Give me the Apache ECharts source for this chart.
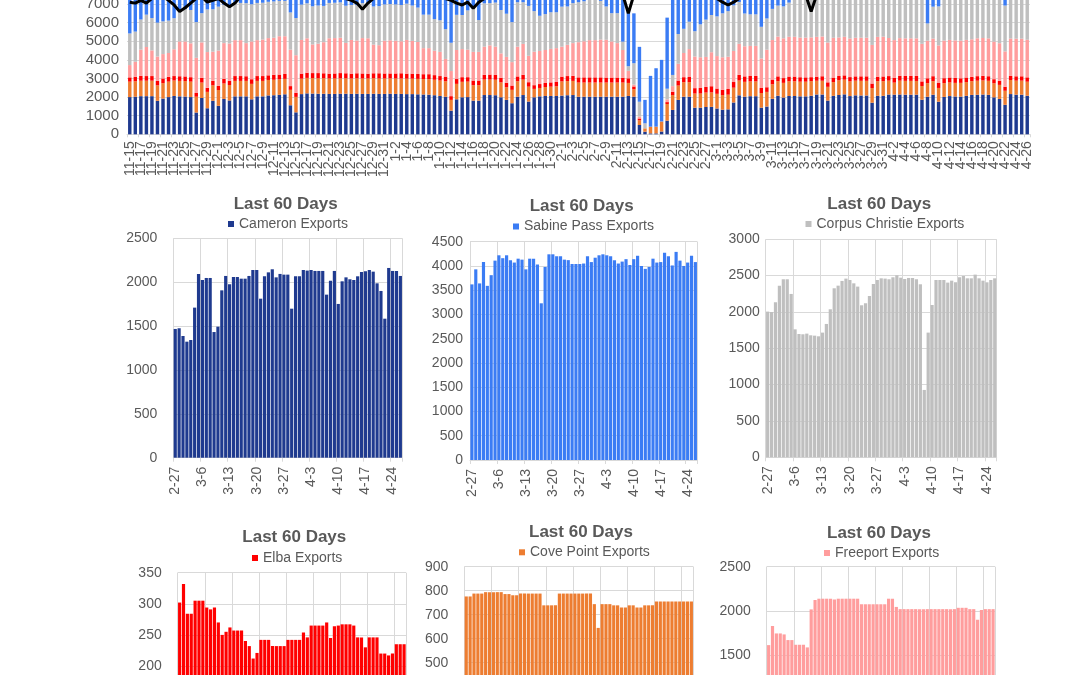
<!DOCTYPE html>
<html><head><meta charset="utf-8">
<script src="https://cdn.jsdelivr.net/npm/echarts@6/dist/echarts.min.js"></script>
<style>html,body{margin:0;padding:0;background:#fff;overflow:hidden;width:1080px;height:675px;position:relative}
#c{position:absolute;left:0;top:-100px;width:1080px;height:1000px}</style>
</head><body><div id="c"></div>
<script>
// ---- categories (11-15 .. 4-26) ----
const dates = [
"11-15","11-16","11-17","11-18","11-19","11-20","11-21","11-22","11-23","11-24","11-25","11-26","11-27","11-28","11-29","11-30",
"12-1","12-2","12-3","12-4","12-5","12-6","12-7","12-8","12-9","12-10","12-11","12-12","12-13","12-14","12-15","12-16","12-17","12-18","12-19","12-20","12-21","12-22","12-23","12-24","12-25","12-26","12-27","12-28","12-29","12-30","12-31",
"1-1","1-2","1-3","1-4","1-5","1-6","1-7","1-8","1-9","1-10","1-11","1-12","1-13","1-14","1-15","1-16","1-17","1-18","1-19","1-20","1-21","1-22","1-23","1-24","1-25","1-26","1-27","1-28","1-29","1-30","1-31",
"2-1","2-2","2-3","2-4","2-5","2-6","2-7","2-8","2-9","2-10","2-11","2-12","2-13","2-14","2-15","2-16","2-17","2-18","2-19","2-20","2-21","2-22","2-23","2-24","2-25","2-26","2-27","2-28",
"3-1","3-2","3-3","3-4","3-5","3-6","3-7","3-8","3-9","3-10","3-11","3-12","3-13","3-14","3-15","3-16","3-17","3-18","3-19","3-20","3-21","3-22","3-23","3-24","3-25","3-26","3-27","3-28","3-29","3-30","3-31",
"4-1","4-2","4-3","4-4","4-5","4-6","4-7","4-8","4-9","4-10","4-11","4-12","4-13","4-14","4-15","4-16","4-17","4-18","4-19","4-20","4-21","4-22","4-23","4-24","4-25","4-26"];
const last60Start = 104; // index of 2-27

// ---- series values (MMcf/d) ----
const cameron = [2000,2020,2050,2050,2050,1800,1920,2000,2060,2040,2030,2000,
1170,1950,1400,1800,1530,1900,1820,
2040,2040,2040,1880,2040,2040,2090,2100,2120,
2150,1560,1180,
2160,2200,2190,2180,2180,2170,2170,2180,2180,2170,2180,2170,2170,2180,2170,2170,
2180,2170,2170,2160,2160,2150,2140,2130,2100,2060,2020,
1270,
1880,1990,2000,1810,1810,
2110,2110,2100,1990,1850,1670,2020,2110,1760,1990,2040,2060,2060,2060,
2080,2100,2110,2020,2020,2020,2020,2020,2020,2020,2020,2020,2060,2020,
500,140,50,50,150,730,1310,1850,2020,2020,1430,1430,
1467,1475,1387,1322,1341,1710,2094,2025,2048,2048,1432,1493,1907,2071,1976,2059,2059,2040,2040,2071,
2139,2139,1812,2067,2112,2147,2055,2094,2086,2086,1698,2067,2067,2139,2132,2139,2128,2128,2128,1858,
2017,2128,1752,2010,2055,2033,2025,2067,2116,2124,2139,2120,1987,1900,1584,2162,2128,2128,2071];

const covePoint = [830,830,830,830,830,830,830,830,830,830,830,830,
850,830,880,830,850,830,830,
830,830,830,830,830,830,830,830,830,830,830,830,
830,830,830,830,830,830,830,830,830,830,830,830,830,830,830,830,
830,830,830,830,830,830,830,830,830,830,830,
580,
830,830,830,830,830,830,830,830,800,680,720,830,830,800,450,450,480,500,520,
760,760,760,760,760,760,760,760,760,760,760,760,700,400,
250,180,360,360,540,900,800,770,780,780,760,760,
776,776,788,788,788,794,794,794,794,794,786,786,781,781,788,788,788,788,788,788,
739,739,739,739,788,788,788,788,788,788,788,788,788,744,645,744,744,744,739,739,
730,730,739,739,730,730,739,739,739,755,755,755,755,755,755,755,755,755,755];

const elba = [230,240,260,250,250,240,250,260,240,250,250,240,
200,250,220,240,220,250,230,
260,260,250,250,260,260,250,270,260,260,200,220,
270,280,270,280,270,260,270,280,270,260,270,270,260,270,280,270,
260,270,280,270,270,260,260,270,250,240,250,
200,
260,250,240,250,250,260,270,260,250,240,230,260,260,240,200,210,220,230,230,
260,270,270,280,280,280,280,280,270,270,270,260,250,150,
100,0,0,0,0,100,180,270,270,280,290,300,
302,332,284,284,305,305,305,294,291,294,270,250,255,262,257,257,257,240,232,212,
221,242,242,242,232,232,232,232,242,242,242,242,254,246,265,265,265,265,270,245,
264,265,267,267,267,265,246,246,230,246,246,246,220,220,217,220,235,235,235];

const freeport = [660,810,1410,1560,1380,1310,1310,1280,1440,
1870,1880,1820,1890,1910,1920,1570,1900,1920,2000,
1930,1930,1780,2030,1930,1960,2000,1990,2060,2030,1960,2020,
1810,1850,1540,1580,1670,1900,1900,1900,1630,1810,1760,1900,1900,1540,1510,1760,1780,1760,1720,1810,1760,1720,1400,1400,1310,
1300,950,1350,
1560,1510,1480,1540,1540,1510,1570,1520,1310,1390,1260,1600,1660,1420,1800,1780,1770,1800,1820,
1610,1680,1760,1890,1940,2000,2000,2030,2030,1940,1850,1490,400,100,
100,0,0,0,0,150,300,900,1300,1500,1700,1650,
1613,1828,1745,1745,1734,1670,1670,1617,1617,1617,1587,2017,2123,2138,2138,2138,2138,2130,2138,2138,
2138,2138,2138,2138,2075,2075,2075,2075,2075,2075,2075,2138,2138,2045,2020,2020,2020,2020,2020,2020,
2020,2020,2020,2020,2020,2020,2020,2020,2020,2035,2035,2035,2020,2020,1900,2010,2020,2020,2020];

const corpusChristie = [1700,1620,1620,1740,1740,1820,1760,1740,1670,1700,1740,1790,1920,1570,2290,2280,2360,2060,
2050,2000,2000,2150,2000,2000,1980,1950,1950,1900,1900,2000,2000,1900,1880,2050,2050,1950,1900,1900,
1900,2000,1880,1900,1880,1880,2050,2100,1950,1950,1950,1950,1950,1900,1850,1800,1800,1700,1700,1600,
1520,
1890,1830,2110,2330,1710,2330,2270,2370,2330,2320,2150,2390,2240,2680,2180,1890,1930,1970,1930,
2150,2060,2150,2150,2150,2180,2180,2080,1790,1520,1610,450,250,1150,
800,270,0,0,0,570,600,1600,1300,1470,1360,1770,
2005,2000,2133,2362,2450,2450,2248,1761,1697,1693,1702,1679,1674,1665,1716,1835,2037,2326,2362,2427,
2459,2440,2394,2349,2092,2119,2220,2385,2440,2463,2459,2450,2477,2505,2472,2454,2468,2468,2450,2381,
927,1716,2096,2440,2440,2440,2404,2431,2408,2477,2495,2463,2463,2514,2463,2431,2408,2440,2463];

const sabinePass = [4100,4200,4000,3900,4100,4200,4000,4100,4200,4000,3900,4100,4300,4000,4100,4200,4000,4100,
4200,4100,4300,4000,4200,4100,4000,4200,4300,4100,4000,4200,4100,4300,4200,4000,4100,4200,4300,4100,4000,4200,
4100,4300,4200,4100,4000,4200,4300,4100,4200,4000,4100,4200,4300,4100,4000,4200,4100,4300,
3800,
4100,4200,4000,4300,4100,4200,4000,4100,4300,4200,4100,4000,4200,4100,4300,4200,4000,4100,4200,4300,
4100,4000,4200,4100,4300,4200,4000,4100,4200,4300,
3500,2950,2680,2950,1260,2730,3140,3310,3820,4300,4100,4000,4200,3900,4000,
3620,3930,3640,4080,3590,3810,4110,4220,4160,4220,4120,4070,4150,4130,3930,4150,4150,4030,3230,3980,
4240,4240,4200,4200,4130,4120,4040,4040,4040,4050,4200,4080,4170,4220,4240,4220,4200,4120,4050,4090,
4140,4020,4140,4210,4000,3940,3980,4150,4070,4080,4270,4200,4010,4290,4110,4000,4070,4210,4080];

const totalLine = [7100,7050,7200,7050,7300,7500,7400,7200,6950,6600,6800,7050,7300,7400,7100,7200,7300,7050,6850,7050,7400,
7600,7500,7700,7600,7800,7700,7600,7500,7400,7600,7700,7800,7600,7500,7700,7600,7500,7400,7300,7200,7050,
6720,
7050,7300,7500,7600,7700,7600,7500,7700,7600,7500,7400,7500,7600,7400,7300,7200,7050,
6950,7100,6770,7100,
7300,7500,7600,7700,7600,7500,7400,7600,7700,7800,7600,7500,7700,7600,7800,7900,7800,7700,7600,7800,7700,7600,7500,7400,7300,
7500,6500,7500,
null,null,null,null,null,null,null,null,null,
7400,7500,7600,7500,7400,7300,7100,
6950,
7100,7300,7500,7600,7500,7400,7600,7700,7600,7500,7600,7700,7600,
7500,6600,7500,
7700,7800,7700,7600,7800,7900,7800,7700,7800,7900,8000,7900,7800,7700,7800,7900,7800,7700,7600,7700,
7800,7900,7800,7700,7800,7900,8000,7900,7800,7700,7800,7900,7800,7700,7600,7700,7800,7900];

// ---- styling ----
const OFF = 100; // chart canvas is shifted up by this many px (top chart extends above the page)
const FONT = "'Liberation Sans', Arial, Helvetica, sans-serif";
const TXT = '#595959';
const GL = '#d9d9d9';
const C = {cam:'#1f3a8f', cove:'#ed7d31', elba:'#ff0000', fp:'#ff9d9d', cc:'#bfbfbf', sab:'#3b7cf4'};
const plain = v => String(v);

const grids = [], xAxes = [], yAxes = [], series = [], legends = [], graphics = [];

// ---- top stacked chart ----
grids.push({left:127, top:-89+OFF, width:903, height:223.3});
xAxes.push({type:'category', gridIndex:0, data:dates, boundaryGap:true,
  axisLine:{lineStyle:{color:GL}}, axisTick:{show:true, interval:1, length:3, lineStyle:{color:GL}},
  axisLabel:{interval:0, rotate:90, margin:7, fontSize:14, color:TXT, fontFamily:FONT,
    formatter:(v, i) => (i % 2 === 0 ? v : '')},
  splitLine:{show:false}});
yAxes.push({type:'value', gridIndex:0, min:0, max:12000, interval:1000,
  axisLine:{show:false}, axisTick:{show:false},
  axisLabel:{fontSize:15, color:TXT, margin:8, fontFamily:FONT, formatter:plain},
  splitLine:{lineStyle:{color:GL}}});
const stackDefs = [['Cameron',cameron,C.cam],['Cove Point',covePoint,C.cove],['Elba',elba,C.elba],
  ['Freeport',freeport,C.fp],['Corpus Christie',corpusChristie,C.cc],['Sabine Pass',sabinePass,C.sab]];
stackDefs.forEach(([n,d,col])=>{
  series.push({type:'bar', name:n, stack:'all', xAxisIndex:0, yAxisIndex:0, data:d,
    barCategoryGap:'38%', itemStyle:{color:col}, emphasis:{disabled:true}});
});
series.push({type:'line', name:'Total', xAxisIndex:0, yAxisIndex:0, data:totalLine,
  symbol:'none', connectNulls:false, lineStyle:{color:'#000', width:3}, z:5});

// ---- small "Last 60 Days" charts ----
const smallDates = dates.slice(last60Start);
const smalls = [
  {name:'Cameron Exports', data:cameron, color:C.cam, g:[173.3,238.3,229,219.4], max:2500, step:500, m:16, t:[285.7,204], l:[228,225]},
  {name:'Sabine Pass Exports', data:sabinePass, color:C.sab, g:[470,241.7,227.3,218.3], max:4500, step:500, m:7, t:[581.7,206], l:[513,227.5]},
  {name:'Corpus Christie Exports', data:corpusChristie, color:C.cc, g:[765.7,239.3,231,218], max:3000, step:500, m:6, t:[879.3,204], l:[805.5,225]},
  {name:'Elba Exports', data:elba, color:C.elba, g:[177.7,572.7,228.3,217.7], max:350, step:50, m:16, t:[294.3,537.3], l:[252,559]},
  {name:'Cove Point Exports', data:covePoint, color:C.cove, g:[464.3,566.7,229,216], max:900, step:100, m:16, t:[581,532.3], l:[519,553.3]},
  {name:'Freeport Exports', data:freeport, color:C.fp, g:[766.7,566.7,228.3,221], max:2500, step:500, m:16, t:[879,533.3], l:[824,554]}
];
smalls.forEach((s,i)=>{
  const gi = i+1;
  grids.push({left:s.g[0], top:s.g[1]+OFF, width:s.g[2], height:s.g[3]});
  xAxes.push({type:'category', gridIndex:gi, data:smallDates, boundaryGap:true,
    axisLine:{lineStyle:{color:GL}}, axisTick:{show:true, interval:6, length:4, lineStyle:{color:GL}},
    axisLabel:{interval:6, rotate:90, margin:9, fontSize:14, color:TXT, fontFamily:FONT, showMinLabel:true},
    splitLine:{show:true, interval:6, lineStyle:{color:GL}}});
  yAxes.push({type:'value', gridIndex:gi, min:0, max:s.max, interval:s.step,
    axisLine:{show:false}, axisTick:{show:false},
    axisLabel:{fontSize:14, color:TXT, margin:s.m, fontFamily:FONT, formatter:plain},
    splitLine:{lineStyle:{color:GL}}});
  series.push({type:'bar', name:s.name, xAxisIndex:gi, yAxisIndex:gi, data:s.data.slice(last60Start),
    barCategoryGap:'18%', itemStyle:{color:s.color}, emphasis:{disabled:true}});
  legends.push({data:[s.name], left:s.l[0], top:s.l[1]-8+OFF, padding:0, itemWidth:6, itemHeight:6, itemGap:5,
    icon:'rect', selectedMode:false, textStyle:{fontSize:14, color:TXT, fontFamily:FONT}});
  graphics.push({type:'text', x:s.t[0], y:s.t[1]+OFF, silent:true,
    style:{text:'Last 60 Days', align:'center', verticalAlign:'middle', textAlign:'center', textVerticalAlign:'middle',
      fill:TXT, font:"bold 17px 'Liberation Sans', Arial, sans-serif"}});
});

const chart = echarts.init(document.getElementById('c'), null, {renderer:'canvas'});
chart.setOption({
  animation:false,
  backgroundColor:'#ffffff',
  grid:grids, xAxis:xAxes, yAxis:yAxes, series:series, legend:legends, graphic:graphics
});
</script></body></html>
